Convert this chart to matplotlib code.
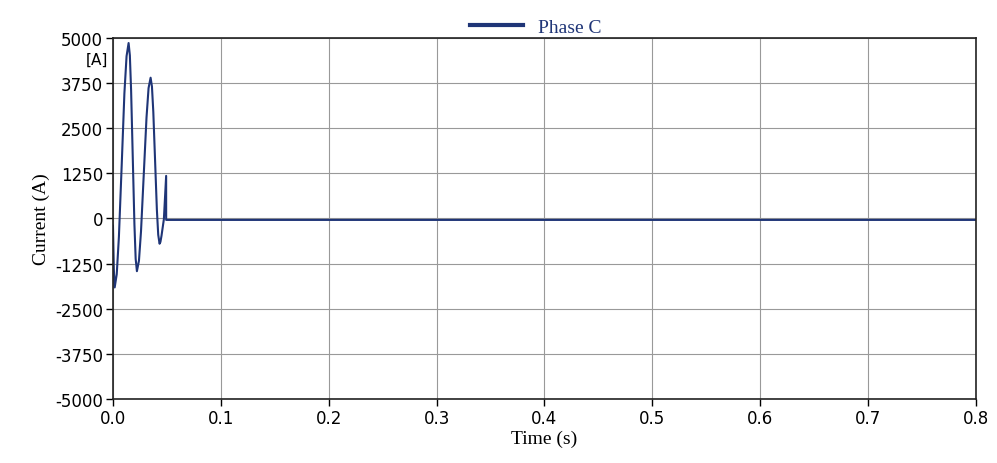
import matplotlib
matplotlib.use('Agg')
import numpy as np
import matplotlib.pyplot as plt

# phase C current (s, A)
tiempo = [0.0, 0.0008, 0.0016,
          0.0035, 0.0055, 0.0081, 0.0106, 0.0126, 0.0145,
          0.01566, 0.01681, 0.01835, 0.01989, 0.02105, 0.0222,
          0.0241, 0.0260, 0.02855, 0.0311, 0.0330, 0.0349,
          0.03615, 0.0374, 0.03905, 0.0407, 0.04196, 0.0432,
          0.0440, 0.0450, 0.0460, 0.0472, 0.0493, 0.04932, 0.8]
corriente = [-200, -1400, -1910,
             -1544, -515, 1475, 3465, 4494, 4860,
             4519, 3558, 1700, -158, -1119, -1460,
             -1171, -356, 1220, 2796, 3611, 3900,
             3652, 2952, 1600, 248, -452, -700,
             -650, -480, -270, -20, 1180, -40, -40]

yticks = [-5000, -3750, -2500, -1250, 0, 1250, 2500, 3750, 5000]
xticks = [0.0, 0.1, 0.2, 0.3, 0.4, 0.5, 0.6, 0.7, 0.8]

fig = plt.figure(figsize=(9.97, 4.64), dpi=100)
ax = fig.add_axes([0.1133, 0.138, 0.8656, 0.778])

ax.plot(tiempo, corriente, color='#1f3577', linewidth=1.5, label='Phase C')

ax.set_xlim(0, 0.8)
ax.set_ylim(-5000, 5000)
ax.set_xticks(xticks)
ax.set_xticklabels(['%.1f' % x for x in xticks], fontsize=12)
ax.set_yticks(yticks)
ax.set_yticklabels([str(y) for y in yticks], fontsize=12)
ax.tick_params(direction='out', length=5, width=1, colors='black', pad=2)
ax.grid(True, color='#999999', linewidth=0.8)
for s in ax.spines.values():
    s.set_linewidth(1.2)
    s.set_color('#222222')

ax.set_ylabel('Current (A)', fontsize=14, family='Liberation Serif', labelpad=4)
ax.set_xlabel('Time (s)', fontsize=14, family='Liberation Serif', labelpad=2)

ax.annotate('[A]', xy=(-0.006, 4420), xycoords=('axes fraction', 'data'),
            ha='right', va='center', fontsize=11)

leg = ax.legend(loc='lower center', bbox_to_anchor=(0.49, 0.985), frameon=False,
                handlelength=2.7, borderaxespad=0,
                prop={'family': 'Liberation Serif', 'size': 14})
for t in leg.get_texts():
    t.set_color('#1f3577')
for l in leg.get_lines():
    l.set_linewidth(3)

fig.savefig('out.png', dpi=100)
